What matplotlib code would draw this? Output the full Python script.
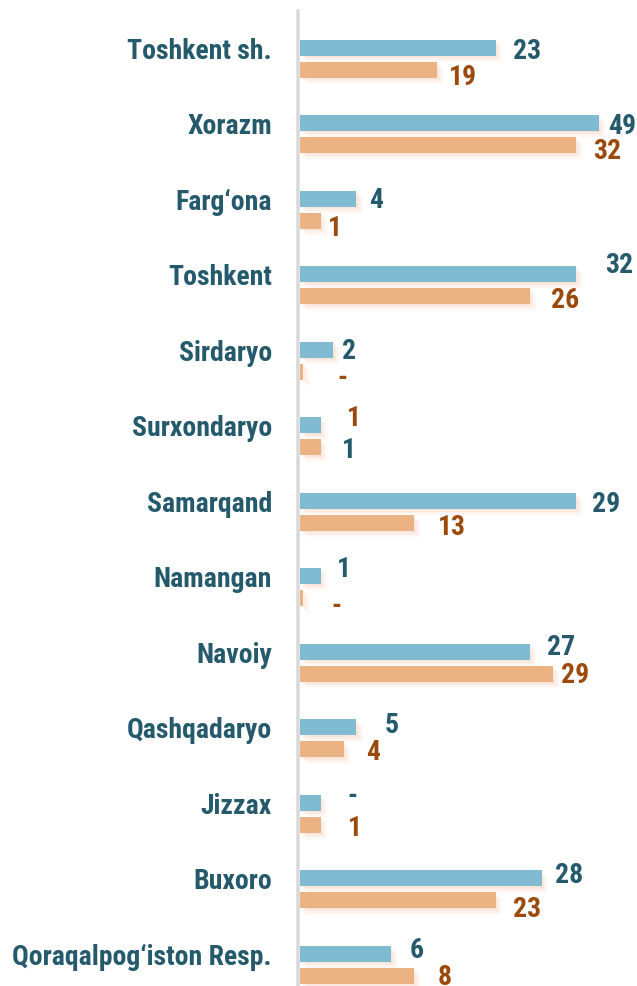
import matplotlib
matplotlib.use("Agg")
import matplotlib.pyplot as plt
import matplotlib.patheffects as pe

# ------------------------------------------------------------------ data
regions = ["Toshkent sh.", "Xorazm", "Farg\u2018ona", "Toshkent", "Sirdaryo",
           "Surxondaryo", "Samarqand", "Namangan", "Navoiy", "Qashqadaryo",
           "Jizzax", "Buxoro", "Qoraqalpog\u2018iston Resp."]
# bar lengths as drawn in the picture (arbitrary scale)
blue_len = [17, 26, 4.9, 24, 2.9, 1.8, 24, 1.8, 20, 4.9, 1.8, 21, 7.9]
orange_len = [11.9, 24, 1.8, 20, 0.3, 1.8, 9.9, 0.3, 22, 3.8, 1.8, 17, 9.9]
# printed labels
blue_lbl = ["23", "49", "4", "32", "2", "1", "29", "1", "27", "5", "-", "28", "6"]
orange_lbl = ["19", "32", "1", "26", "-", "1", "13", "-", "29", "4", "1", "23", "8"]

# label offsets from bar end (px right, px down)
blue_off = [(17, 0), (9, 0), (13, -2), (29, -12), (9, -2), (21, 22), (16, 0),
            (16, -10), (17, -8), (28, -5), (27, -10), (14, -6), (19, -7)]
orange_off = [(12, 4), (17, 3), (7, 4), (21, 1), (34, 3), (26, -32), (24, 1),
              (28, 5), (8, -2), (22, 0), (27, 0), (17, 6), (24, -2)]

BLUE, ORANGE = "#81bbd2", "#ebb384"
BLUE_TXT, ORANGE_TXT = "#245a6b", "#9c4a0c"

plt.rcParams["font.family"] = ["Roboto Condensed", "Roboto", "DejaVu Sans"]
FS = 20

W, H, DPI = 637, 987, 100
fig = plt.figure(figsize=(W / DPI, H / DPI), dpi=DPI, facecolor="white")
unit = 11.5  # px per bar unit
x0 = 300
ax = fig.add_axes([x0 / W, 0, 1 - x0 / W, 1])
ax.set_xlim(0, (W - x0) / unit)
step = 75.54
ax.set_ylim((H - 48.5) / step, -48.5 / step)
ax.axis("off")

gap = 22 / step
bh = 16 / step
ys = list(range(len(regions)))

glow = [pe.SimplePatchShadow(offset=(d, -d), shadow_rgbFace="#f3c2a0", alpha=a)
        for d, a in [(5, 0.05), (4, 0.07), (3, 0.09), (2, 0.11), (1, 0.13)]]
glow.append(pe.Normal())

bb = ax.barh(ys, blue_len, height=bh, color=BLUE, zorder=3)
ob = ax.barh([y + gap for y in ys], orange_len, height=bh, color=ORANGE, zorder=2)
for p in list(bb) + list(ob):
    p.set_path_effects(glow)

ax.axvline(-2 / unit, ymin=0, ymax=1 - 12 / H, color="#d9d9d9", lw=3.5 * 72 / DPI,
           zorder=4, clip_on=False)

cap = 10  # half cap height in px
for i, name in enumerate(regions):
    ax.annotate(name, xy=(0, i), xytext=(-28, -cap), textcoords="offset pixels",
                ha="right", va="baseline", fontsize=FS, fontweight="bold",
                color=BLUE_TXT)
    dx, dy = blue_off[i]
    ax.annotate(blue_lbl[i], xy=(blue_len[i], i), xytext=(dx, -dy - cap),
                textcoords="offset pixels", ha="left", va="baseline",
                fontsize=FS, fontweight="bold", color=BLUE_TXT)
    dx, dy = orange_off[i]
    ax.annotate(orange_lbl[i], xy=(orange_len[i], i + gap), xytext=(dx, -dy - cap),
                textcoords="offset pixels", ha="left", va="baseline",
                fontsize=FS, fontweight="bold", color=ORANGE_TXT)

fig.savefig("out.png", dpi=DPI, facecolor="white")
